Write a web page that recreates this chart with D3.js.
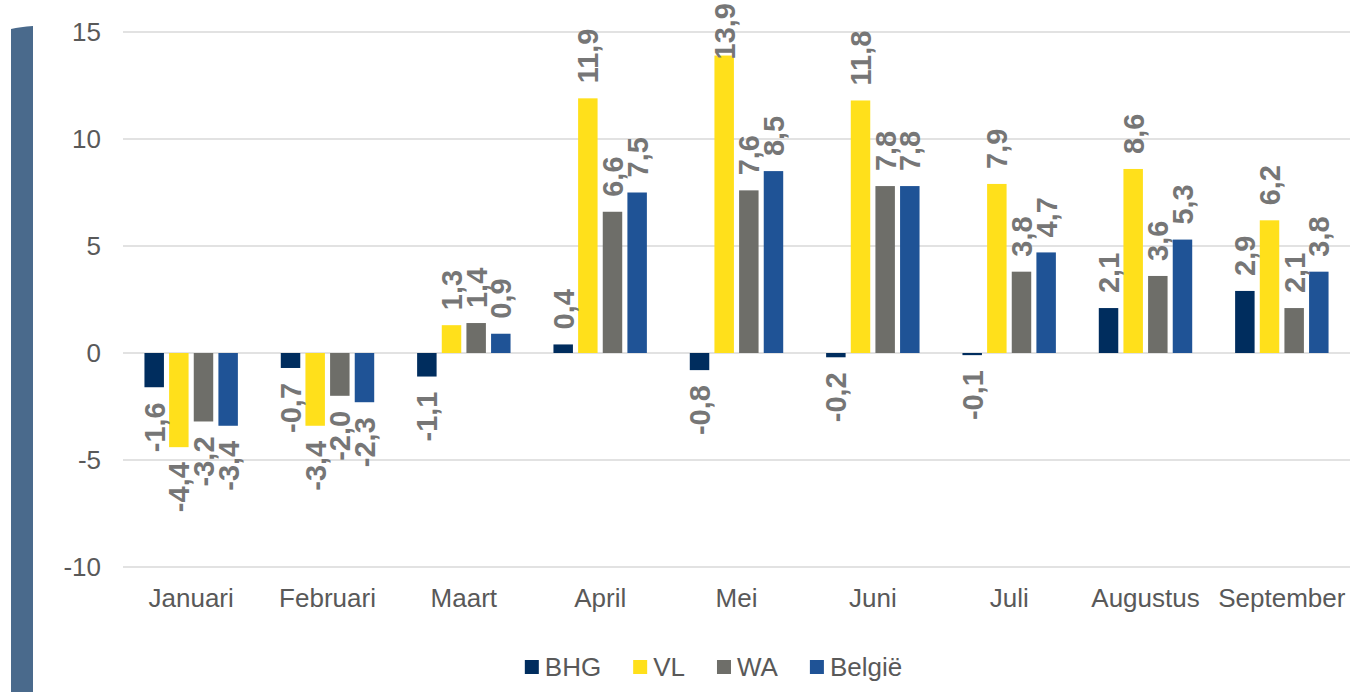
<!DOCTYPE html>
<html>
<head>
<meta charset="utf-8">
<title>Maandelijkse groei per gewest</title>
<script src="https://d3js.org/d3.v7.min.js"></script>
<style>
  body { margin: 0; background: #fff; }
  svg { display: block; }
  text { font-family: Arial, "Liberation Sans", sans-serif; }
</style>
</head>
<body>
<div id="chart"></div>
<script>
// ---- data ----
const months = ["Januari", "Februari", "Maart", "April", "Mei", "Juni", "Juli", "Augustus", "September"];
const seriesNames = ["BHG", "VL", "WA", "België"];
const bhg    = [-1.6, -0.7, -1.1, 0.4, -0.8, -0.2, -0.1, 2.1, 2.9];
const vl     = [-4.4, -3.4, 1.3, 11.9, 13.9, 11.8, 7.9, 8.6, 6.2];
const wa     = [-3.2, -2.0, 1.4, 6.6, 7.6, 7.8, 3.8, 3.6, 2.1];
const belgie = [-3.4, -2.3, 0.9, 7.5, 8.5, 7.8, 4.7, 5.3, 3.8];
const yTicks = [15, 10, 5, 0, -5, -10];
const colors = ["#002d5e", "#ffe01b", "#6e6e69", "#1f5396"];

const allSeries = [bhg, vl, wa, belgie];

// ---- svg ----
const W = 1368, H = 692;
const margin = {top: 32, right: 18, bottom: 125, left: 123};
const width = W - margin.left - margin.right,
      height = H - margin.top - margin.bottom;

const svg = d3.select("#chart").append("svg")
    .attr("width", W)
    .attr("height", H);

// slate strip at the left edge
svg.append("path")
    .attr("d", "M11,29 Q20,27 33,26 L33,692 L11,692 Z")
    .attr("fill", "#4a6a8c");

const g = svg.append("g")
    .attr("transform", "translate(" + margin.left + "," + margin.top + ")");

// ---- scales ----
const x0 = d3.scaleBand().domain(months).range([0, width]).paddingInner(0).paddingOuter(0);
const x1 = d3.scaleBand().domain(seriesNames).range([0, 98.6]).paddingInner(0.21).paddingOuter(0.105);
const y = d3.scaleLinear().domain([-10, 15]).range([height, 0]);

// ---- grid ----
g.selectAll(".grid").data(yTicks).enter().append("line")
    .attr("x1", 0).attr("x2", width)
    .attr("y1", d => y(d)).attr("y2", d => y(d))
    .attr("stroke", "#d9d9d9").attr("stroke-width", 1.3);

// ---- axes ----
const yAxis = g.append("g")
    .call(d3.axisLeft(y).tickValues(yTicks).tickFormat(d => String(d)).tickSize(0).tickPadding(22));
yAxis.select(".domain").remove();
yAxis.selectAll("text")
    .attr("font-size", 26).attr("fill", "#595959")
    .attr("font-family", "Arial, 'Liberation Sans', sans-serif");

const xAxis = g.append("g")
    .attr("transform", "translate(0," + height + ")")
    .call(d3.axisBottom(x0).tickSize(0).tickPadding(22));
xAxis.select(".domain").remove();
xAxis.selectAll("text")
    .attr("font-size", 26).attr("fill", "#595959")
    .attr("font-family", "Arial, 'Liberation Sans', sans-serif");

// ---- bars ----
const groupOffset = (x0.bandwidth() - 98.6) / 2;
const rows = [];
months.forEach((m, i) => {
  seriesNames.forEach((s, j) => rows.push({month: m, series: s, j: j, value: allSeries[j][i]}));
});

const bx = d => x0(d.month) + groupOffset + x1(d.series);

g.selectAll(".bar").data(rows).enter().append("rect")
    .attr("x", bx)
    .attr("width", x1.bandwidth())
    .attr("y", d => y(Math.max(0, d.value)))
    .attr("height", d => Math.abs(y(d.value) - y(0)))
    .attr("fill", d => colors[d.j]);

// ---- value labels ----
const fmt = v => v.toFixed(1).replace(".", ",");
const labels = g.selectAll(".lbl").data(rows).enter().append("text")
    .attr("dy", "0.36em")
    .attr("text-anchor", d => d.value >= 0 ? "start" : "end")
    .attr("font-size", 29)
    .attr("font-weight", "bold")
    .attr("fill", "#767676")
    .text(d => fmt(d.value));

labels.attr("transform", function(d) {
  const cx = bx(d) + x1.bandwidth() / 2;
  let cy;
  if (d.value >= 0) {
    cy = y(d.value) - 15;
    // keep the label inside the picture, as the original does
    const len = this.getComputedTextLength();
    cy = Math.max(cy, len + 3 - margin.top);
  } else {
    cy = y(d.value) + 15;
  }
  return "translate(" + cx + "," + cy + ") rotate(-90)";
});

// ---- legend ----
const legend = svg.append("g");
let lx = 0;
seriesNames.forEach((s, j) => {
  const item = legend.append("g").attr("transform", "translate(" + lx + ",0)");
  item.append("rect").attr("x", 0).attr("y", -7).attr("width", 14).attr("height", 14).attr("fill", colors[j]);
  const t = item.append("text").attr("x", 20).attr("dy", "0.35em")
      .attr("font-size", 26).attr("fill", "#595959").text(s);
  lx += 20 + t.node().getComputedTextLength() + 32;
});
const legW = lx - 32;
legend.attr("transform", "translate(" + (713.5 - legW / 2) + ",667)");
</script>
</body>
</html>
